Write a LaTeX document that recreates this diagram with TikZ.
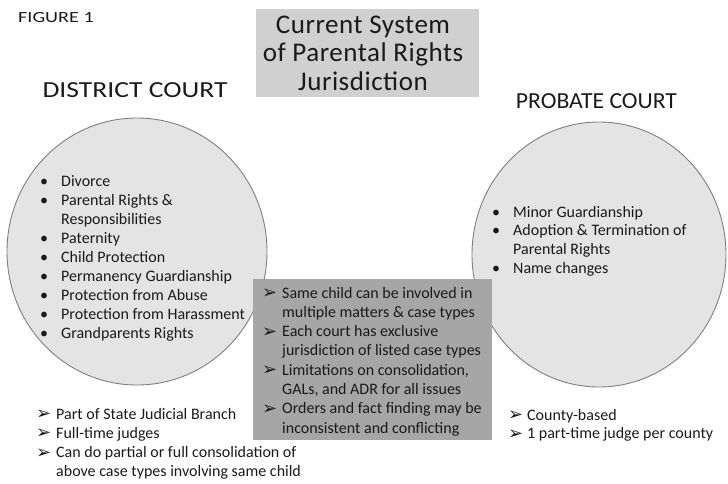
\documentclass[tikz,border=0pt]{standalone}
\usepackage{fontspec}
\setmainfont{Carlito}
\newfontfamily\dejavu{DejaVu Sans}
\definecolor{circfill}{HTML}{E4E4E4}
\definecolor{circline}{HTML}{7F7F7F}
\definecolor{titlefill}{HTML}{D0D0D0}
\definecolor{boxfill}{HTML}{A6A6A6}
\definecolor{ink}{HTML}{1A1A1A}
\tikzset{
  circ/.style={draw=circline, line width=0.9pt, fill=circfill},
  lst/.style={inner sep=0pt, text=ink, font=\fontsize{16}{19}\selectfont},
  mark glyph/.style={inner sep=0pt, text=ink, font=\fontsize{16}{19}\selectfont},
  arrowglyph/.style={inner sep=0pt, text=ink, font=\dejavu\bfseries\fontsize{18}{20}\selectfont},
  head/.style={inner sep=0pt, text=ink, font=\fontsize{23}{27}\selectfont},
}
\begin{document}
\begin{tikzpicture}[x=1pt,y=-1pt]
\useasboundingbox (0,0) rectangle (728,483);
% circles
\draw[circ] (137,251.5) ellipse [x radius=130pt, y radius=133.5pt];
\draw[circ] (599,254.5) ellipse [x radius=127pt, y radius=132.5pt];
% title box
\node[fill=titlefill, minimum width=223pt, minimum height=88pt, inner sep=0pt] (titlebox) at (367.5,53) {};
\node[inner sep=0pt, text=ink, align=center,
      font=\fontsize{27}{28.5}\selectfont\addfontfeature{LetterSpace=2}] (title) at (363,53)
  {Current System\\of Parental Rights\\Jurisdiction};
% headers
\node[inner sep=0pt, text=ink, font=\fontsize{15.5}{18}\selectfont, anchor=base west] (fig) at (18,22) {\scalebox{1.3}[1]{FIGURE 1}};
\node[head, anchor=base] (dc) at (135,97) {\scalebox{1.2}[1]{DISTRICT COURT}};
\node[head, anchor=base] (pc) at (596.5,108) {\scalebox{1.03}[1]{PROBATE COURT}};
% left list
\foreach \b/\t [count=\i] in {1/Divorce, 1/Parental Rights \&, 0/Responsibilities, 1/Paternity,
   1/Child Protection, 1/Permanency Guardianship, 1/Protection from Abuse,
   1/Protection from Harassment, 1/Grandparents Rights}{
  \node[lst, anchor=base west] (L\i) at (61,{186+(\i-1)*19.05}) {\t};
  \ifnum\b=1 \node[mark glyph, anchor=base] (Lb\i) at (44,{186+(\i-1)*19.05}) {•};\fi
}
% right list
\foreach \b/\t [count=\i] in {1/Minor Guardianship, 1/Adoption \& Termination of,
   0/Parental Rights, 1/Name changes}{
  \node[lst, anchor=base west] (R\i) at (513,{217+(\i-1)*18.7}) {\t};
  \ifnum\b=1 \node[mark glyph, anchor=base] (Rb\i) at (496,{217+(\i-1)*18.7}) {•};\fi
}
% center box
\node[fill=boxfill, minimum width=239pt, minimum height=161pt, inner sep=0pt, anchor=north west] (mid) at (253,279) {};
\foreach \b/\t [count=\i] in {1/Same child can be involved in, 0/multiple matters \& case types,
   1/Each court has exclusive, 0/jurisdiction of listed case types,
   {1/Limitations on consolidation,}, {0/GALs, and ADR for all issues},
   1/Orders and fact finding may be, 0/inconsistent and conflicting}{
  \node[lst, anchor=base west] (M\i) at (282,{298+(\i-1)*19.3}) {\t};
  \ifnum\b=1 \node[arrowglyph, anchor=base west] (Ma\i) at (262,{298.5+(\i-1)*19.3}) {➢};\fi
}
% bottom left
\foreach \b/\t [count=\i] in {1/Part of State Judicial Branch, 1/Full-time judges,
   1/Can do partial or full consolidation of, 0/above case types involving same child}{
  \node[lst, anchor=base west] (BL\i) at (56,{419+(\i-1)*19.3}) {\t};
  \ifnum\b=1 \node[arrowglyph, anchor=base west] (BLa\i) at (36,{419.5+(\i-1)*19.3}) {➢};\fi
}
% bottom right
\foreach \b/\t [count=\i] in {1/County-based, 1/1 part-time judge per county}{
  \node[lst, anchor=base west] (BR\i) at (527,{420+(\i-1)*18.5}) {\t};
  \ifnum\b=1 \node[arrowglyph, anchor=base west] (BRa\i) at (508,{420.5+(\i-1)*18.5}) {➢};\fi
}
\end{tikzpicture}
\end{document}
